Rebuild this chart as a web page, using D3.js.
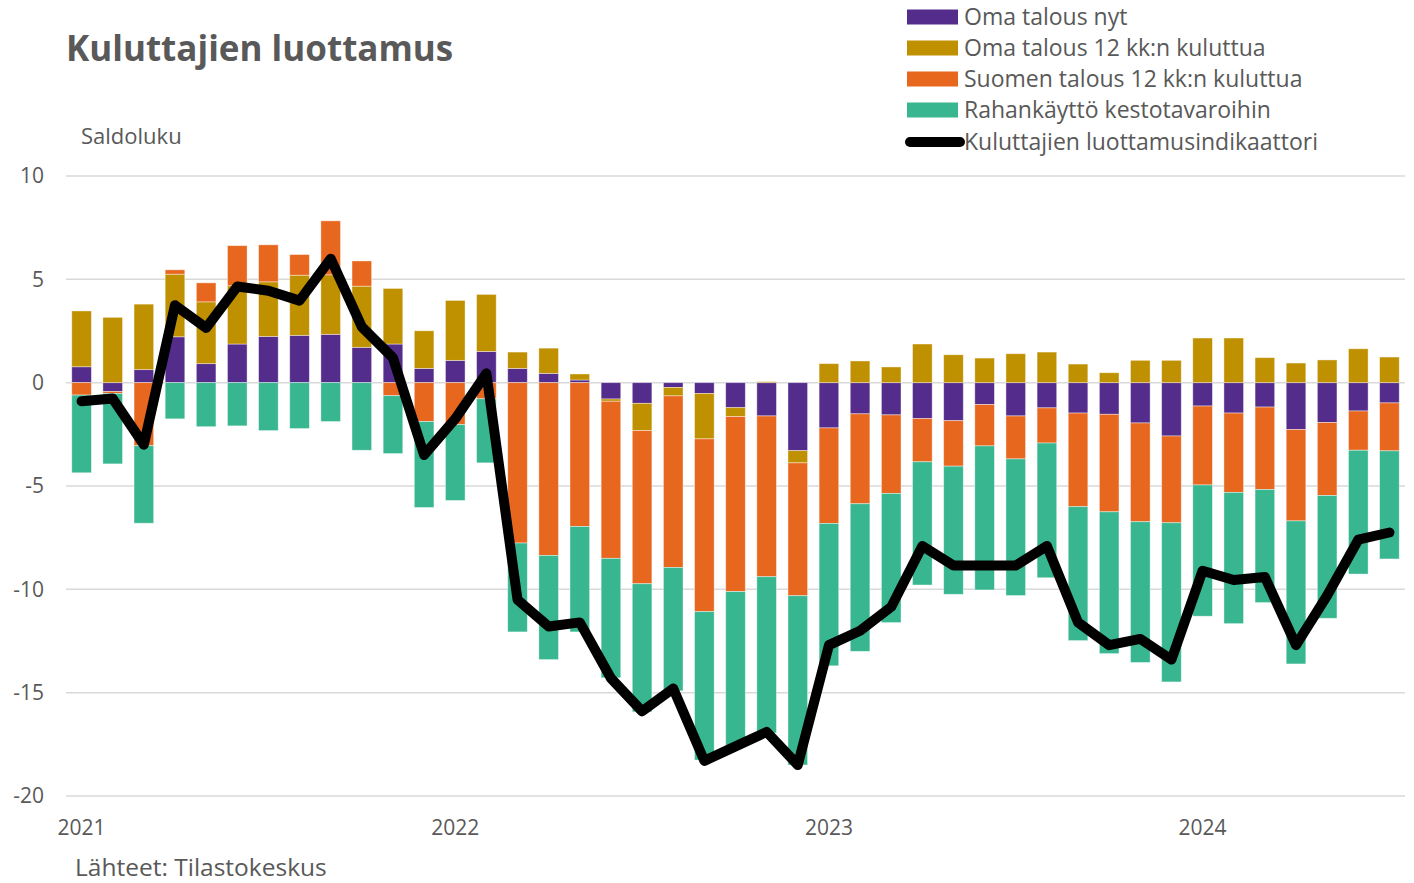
<!DOCTYPE html>
<html>
<head>
<meta charset="utf-8">
<script src="https://cdn.jsdelivr.net/npm/d3@7"></script>
<style>
  body { margin: 0; background: #fff; }
  text { font-family: "Open Sans", sans-serif; fill: #595959; }
</style>
</head>
<body>
<div class="chart"></div>
<script>
var svgWidth = 1414;
var svgHeight = 883;

// months Jan 2021 .. Jul 2024
var months = [
  "2021-01","2021-02","2021-03","2021-04","2021-05","2021-06","2021-07","2021-08","2021-09","2021-10","2021-11","2021-12",
  "2022-01","2022-02","2022-03","2022-04","2022-05","2022-06","2022-07","2022-08","2022-09","2022-10","2022-11","2022-12",
  "2023-01","2023-02","2023-03","2023-04","2023-05","2023-06","2023-07","2023-08","2023-09","2023-10","2023-11","2023-12",
  "2024-01","2024-02","2024-03","2024-04","2024-05","2024-06","2024-07"
];

var omaNyt = [0.77, -0.43, 0.63, 2.22, 0.92, 1.87, 2.24, 2.29, 2.34, 1.71, 1.87, 0.69,
  1.08, 1.51, 0.69, 0.45, 0.13, -0.79, -1.0, -0.23, -0.52, -1.21, -1.61, -3.29,
  -2.19, -1.51, -1.56, -1.74, -1.84, -1.06, -1.61, -1.22, -1.47, -1.53, -1.95, -2.58,
  -1.13, -1.47, -1.18, -2.27, -1.93, -1.37, -0.98];

var omaTuleva = [2.7, 3.16, 3.17, 3.03, 2.99, 2.82, 2.64, 2.91, 2.88, 2.96, 2.69, 1.82,
  2.9, 2.76, 0.79, 1.22, 0.29, -0.11, -1.32, -0.41, -2.2, -0.43, 0.05, -0.59,
  0.92, 1.05, 0.76, 1.87, 1.35, 1.19, 1.4, 1.48, 0.9, 0.48, 1.08, 1.08,
  2.16, 2.16, 1.21, 0.95, 1.1, 1.64, 1.24];

var suomenTalous = [-0.6, -0.09, -3.05, 0.21, 0.92, 1.94, 1.79, 1.0, 2.61, 1.22, -0.63, -1.88,
  -2.03, -0.78, -7.76, -8.36, -6.96, -7.6, -7.41, -8.3, -8.36, -8.47, -7.78, -6.43,
  -4.62, -4.35, -3.8, -2.09, -2.2, -2.0, -2.08, -1.7, -4.53, -4.72, -4.78, -4.2,
  -3.82, -3.84, -3.99, -4.42, -3.53, -1.9, -2.32];

var rahankaytto = [-3.76, -3.41, -3.75, -1.75, -2.13, -2.09, -2.32, -2.22, -1.88, -3.27, -2.8, -4.16,
  -3.67, -3.1, -4.3, -5.04, -5.1, -5.78, -6.2, -5.97, -7.18, -7.5, -7.56, -8.19,
  -6.89, -7.14, -6.25, -5.96, -6.2, -6.97, -6.61, -6.52, -6.48, -6.86, -6.81, -7.7,
  -6.35, -6.35, -5.47, -6.92, -5.94, -5.99, -5.23];

var indikaattori = [-0.9, -0.77, -3.0, 3.75, 2.65, 4.65, 4.45, 3.97, 6.0, 2.7, 1.2, -3.5,
  -1.75, 0.45, -10.5, -11.8, -11.6, -14.3, -15.9, -14.8, -18.3, -17.6, -16.9, -18.5,
  -12.7, -12.0, -10.85, -7.9, -8.85, -8.85, -8.85, -7.9, -11.6, -12.7, -12.4, -13.4,
  -9.1, -9.55, -9.4, -12.7, -10.3, -7.6, -7.25];

var yTicks = [10, 5, 0, -5, -10, -15, -20];
var yearTicks = ["2021-01", "2022-01", "2023-01", "2024-01"];

var seriesNames = ["Oma talous nyt", "Oma talous 12 kk:n kuluttua",
  "Suomen talous 12 kk:n kuluttua", "Rahankäyttö kestotavaroihin"];
var lineName = "Kuluttajien luottamusindikaattori";
var colors = ["#542D8C", "#BF9000", "#E8671F", "#37B690"];

var margin = { top: 176, right: 9, bottom: 87, left: 66 };
var width = svgWidth - margin.left - margin.right;
var height = svgHeight - margin.top - margin.bottom;

var svg = d3.select(".chart")
  .append("svg")
  .attr("width", svgWidth)
  .attr("height", svgHeight);

// table for stacking
var keys = ["nyt", "tuleva", "suomi", "raha"];
var rows = months.map(function(m, i) {
  return { month: m, nyt: omaNyt[i], tuleva: omaTuleva[i], suomi: suomenTalous[i], raha: rahankaytto[i] };
});

var stacked = d3.stack()
  .keys(keys)
  .offset(d3.stackOffsetDiverging)(rows);

var x = d3.scaleBand()
  .domain(months)
  .range([0, width])
  .paddingInner(0.37)
  .paddingOuter(0.185);

var y = d3.scaleLinear()
  .domain([-20, 10])
  .range([height, 0]);

var g = svg.append("g")
  .attr("transform", `translate(${margin.left}, ${margin.top})`);

// gridlines
g.append("g")
  .selectAll("line")
  .data(yTicks)
  .enter().append("line")
  .attr("x1", 0)
  .attr("x2", width)
  .attr("y1", d => y(d))
  .attr("y2", d => y(d))
  .attr("stroke", "#d9d9d9")
  .attr("stroke-width", 1.5);

// y axis labels (plain hyphen for minus, like the original)
var leftAxis = d3.axisLeft(y)
  .tickValues(yTicks)
  .tickFormat(d => String(d))
  .tickSize(0)
  .tickPadding(22);
var yAxis = g.append("g").call(leftAxis);
yAxis.select(".domain").remove();
yAxis.selectAll("text")
  .attr("font-size", "21px")
  .style("font-family", "'Open Sans', sans-serif")
  .attr("fill", "#595959");

// x axis labels
var bottomAxis = d3.axisBottom(x)
  .tickValues(yearTicks)
  .tickFormat(d => d.slice(0, 4))
  .tickSize(0)
  .tickPadding(24);
var xAxis = g.append("g")
  .attr("transform", `translate(0, ${height})`)
  .call(bottomAxis);
xAxis.select(".domain").remove();
xAxis.selectAll("text")
  .attr("font-size", "21px")
  .style("font-family", "'Open Sans', sans-serif")
  .attr("fill", "#595959");

// stacked bars
g.append("g")
  .selectAll("g")
  .data(stacked)
  .enter().append("g")
  .attr("fill", (d, i) => colors[i])
  .selectAll("rect")
  .data(d => d)
  .enter().append("rect")
  .attr("x", d => x(d.data.month))
  .attr("y", d => y(Math.max(d[0], d[1])))
  .attr("height", d => Math.abs(y(d[0]) - y(d[1])))
  .attr("width", x.bandwidth())
  .attr("stroke", "rgba(255,255,255,0.5)")
  .attr("stroke-width", 0.8);

// indicator line
var line = d3.line()
  .x((d, i) => x(months[i]) + x.bandwidth() / 2)
  .y(d => y(d));

g.append("path")
  .datum(indikaattori)
  .attr("d", line)
  .attr("fill", "none")
  .attr("stroke", "#000")
  .attr("stroke-width", 10)
  .attr("stroke-linejoin", "round")
  .attr("stroke-linecap", "round");

// title and labels
svg.append("text")
  .attr("x", 66)
  .attr("y", 61)
  .attr("font-size", "35px")
  .attr("font-weight", "bold")
  .text("Kuluttajien luottamus");

svg.append("text")
  .attr("x", 81)
  .attr("y", 144)
  .attr("font-size", "22px")
  .text("Saldoluku");

svg.append("text")
  .attr("x", 75)
  .attr("y", 876)
  .attr("font-size", "24.5px")
  .text("Lähteet: Tilastokeskus");

// legend
var legend = svg.append("g").attr("transform", "translate(907, 17)");
seriesNames.forEach(function(name, i) {
  var row = legend.append("g").attr("transform", `translate(0, ${i * 31})`);
  row.append("rect")
    .attr("x", 0).attr("y", -7.5)
    .attr("width", 51).attr("height", 15)
    .attr("fill", colors[i]);
  row.append("text")
    .attr("x", 57).attr("y", 0)
    .attr("dy", "0.35em")
    .attr("font-size", "23px")
    .text(name);
});
var lineRow = legend.append("g").attr("transform", `translate(0, ${4 * 31 + 1})`);
lineRow.append("line")
  .attr("x1", 3).attr("x2", 53)
  .attr("stroke", "#000")
  .attr("stroke-width", 10)
  .attr("stroke-linecap", "round");
lineRow.append("text")
  .attr("x", 57).attr("y", 0)
  .attr("dy", "0.35em")
  .attr("font-size", "23px")
  .text(lineName);
</script>
</body>
</html>
